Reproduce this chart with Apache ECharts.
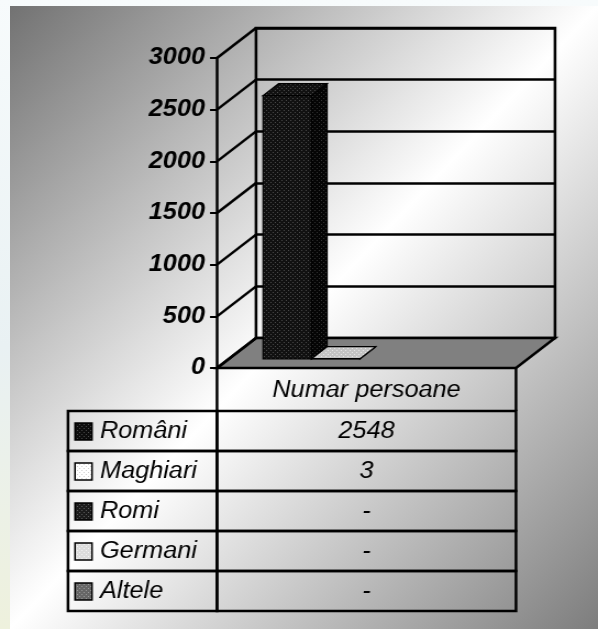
<!DOCTYPE html>
<html><head><meta charset="utf-8">
<script src="https://cdn.jsdelivr.net/npm/echarts@6/dist/echarts.min.js"></script>
<style>
html,body{margin:0;padding:0;background:#fff;overflow:hidden}
#wrap{position:relative;width:598px;height:629px;overflow:hidden;background:linear-gradient(to bottom,#f7fbfc 0%,#e9f1f3 55%,#eef1dd 100%)}
#bg{position:absolute;left:10px;top:6px;right:0;bottom:0;background:linear-gradient(to bottom right,#727272 0%,#ffffff 50%,#7d7d7d 100%)}
#chart{position:absolute;left:0;top:0;width:544px;height:629px;transform:scaleX(1.099265);transform-origin:0 0}
</style></head><body>
<div id="wrap"><div id="bg"></div><div id="chart"></div></div>
<script>
// ---- data ----
const categories = ['Numar persoane'];
const groups = ['Români', 'Maghiari', 'Romi', 'Germani', 'Altele'];
const values = [2548, 3, null, null, null];
const tableText = ['2548', '3', '-', '-', '-'];
const yTicks = [0, 500, 1000, 1500, 2000, 2500, 3000];

// ---- layout / style ----
const SX = 598 / 544;
const X = v => v / SX;
const DX = X(39), DY = -30;
const FRONT_D = 0.3, BACK_D = 0.7;
const GAP_FRAC = 34.3 / 299, BAR_FRAC = 48.5 / 299;
const LABEL_W = X(149), KEY_X = X(7), TXT_X = X(32), HEADER_H = 43;
const LW = 2.5;
const FONT = '"Liberation Sans", Arial, sans-serif';

function pattern(bg, dot) {
  const c = document.createElement('canvas'); c.width = 4; c.height = 4;
  const g = c.getContext('2d');
  g.fillStyle = bg; g.fillRect(0, 0, 4, 4);
  g.fillStyle = dot; g.fillRect(0, 0, 1, 1); g.fillRect(2, 2, 1, 1);
  return { image: c, repeat: 'repeat' };
}
const keyFill = [
  pattern('#0d0d0d', '#4a4a4a'),
  pattern('#ffffff', '#d0d0d0'),
  pattern('#1c1c1c', '#5c5c5c'),
  pattern('#dcdcdc', '#f4f4f4'),
  pattern('#666666', '#999999')
];
const faceFill = [
  { front: pattern('#111111', '#4a4a4a'), top: pattern('#111111', '#4a4a4a'), side: pattern('#050505', '#333333') },
  { front: pattern('#ffffff', '#d0d0d0'), top: pattern('#c4c4c4', '#e8e8e8'), side: pattern('#aaaaaa', '#cccccc') },
  { front: pattern('#1c1c1c', '#5c5c5c'), top: pattern('#1c1c1c', '#5c5c5c'), side: pattern('#0c0c0c', '#3c3c3c') },
  { front: pattern('#dcdcdc', '#f4f4f4'), top: pattern('#cccccc', '#eeeeee'), side: pattern('#bbbbbb', '#dddddd') },
  { front: pattern('#666666', '#999999'), top: pattern('#5a5a5a', '#8a8a8a'), side: pattern('#4a4a4a', '#7a7a7a') }
];

const chart = echarts.init(document.getElementById('chart'), null, { renderer: 'canvas' });

const option = {
  backgroundColor: 'transparent',
  animation: false,
  grid: [
    { left: X(256), top: 28, width: X(299), height: 310, show: true, borderColor: '#000', borderWidth: LW, backgroundColor: 'transparent' },
    { left: X(217), top: 58, width: X(299), height: 310 },
    { left: X(217), top: 411, width: X(299), height: 200 }
  ],
  xAxis: [
    { gridIndex: 0, type: 'category', data: categories, show: false },
    { gridIndex: 1, type: 'category', data: categories,
      axisLine: { show: false }, axisTick: { show: false },
      axisLabel: { margin: 11, color: '#000', fontSize: 23, fontStyle: 'italic', fontFamily: FONT } },
    { gridIndex: 2, type: 'category', data: categories, show: false }
  ],
  yAxis: [
    { gridIndex: 0, type: 'value', min: 0, max: 3000, interval: 500,
      axisLine: { show: false }, axisTick: { show: false }, axisLabel: { show: false },
      splitLine: { show: true, lineStyle: { color: '#000', width: LW } } },
    { gridIndex: 1, type: 'value', min: 0, max: 3000, interval: 500,
      axisLine: { show: true, lineStyle: { color: '#000', width: LW } },
      axisTick: { show: true, length: X(7), lineStyle: { color: '#000', width: 2 } },
      splitLine: { show: false },
      axisLabel: { margin: X(12), color: '#000', fontSize: 23, fontWeight: 'bold', fontStyle: 'italic', fontFamily: FONT,
        formatter: v => String(v) } },
    { gridIndex: 2, type: 'category', data: groups, inverse: true, show: false }
  ],
  series: [
    { // side wall diagonals + floor
      type: 'custom', xAxisIndex: 1, yAxisIndex: 1, z: 2, silent: true,
      data: yTicks.map(t => [0, t]),
      renderItem(params, api) {
        const t = api.value(1);
        const bw = api.size([1, 0])[0];
        const p = api.coord([api.value(0), t]);
        const ax = p[0] - bw / 2, r = ax + bw;
        const ch = [];
        if (t === 0) {
          ch.push({ type: 'polygon', shape: { points: [[ax, p[1]], [r, p[1]], [r + DX, p[1] + DY], [ax + DX, p[1] + DY]] },
            style: { fill: '#808080', stroke: '#000', lineWidth: LW, lineJoin: 'miter' } });
        }
        ch.push({ type: 'line', shape: { x1: ax, y1: p[1], x2: ax + DX, y2: p[1] + DY }, style: { stroke: '#000', lineWidth: LW } });
        return { type: 'group', children: ch };
      }
    },
    { // 3D bars
      type: 'custom', xAxisIndex: 1, yAxisIndex: 1, z: 4, silent: true,
      data: values.map((v, i) => v == null ? null : [0, v, i]).filter(d => d),
      renderItem(params, api) {
        const i = api.value(2);
        const bw = api.size([1, 0])[0];
        const c0 = api.coord([api.value(0), 0]);
        const c1 = api.coord([api.value(0), api.value(1)]);
        const bandStart = c0[0] - bw / 2;
        const barW = bw * BAR_FRAC;
        const x0 = bandStart + bw * GAP_FRAC + i * barW;
        const fx = DX * FRONT_D, fy = DY * FRONT_D, bx = DX * BACK_D, by = DY * BACK_D;
        const yb = c0[1], yt = c1[1];
        const L = x0 + fx, R = x0 + barW + fx;
        const f = faceFill[i];
        const st = { stroke: '#000', lineWidth: 1.2 };
        return { type: 'group', children: [
          { type: 'polygon', shape: { points: [[R, yt + fy], [x0 + barW + bx, yt + by], [x0 + barW + bx, yb + by], [R, yb + fy]] }, style: Object.assign({ fill: f.side }, st) },
          { type: 'polygon', shape: { points: [[L, yt + fy], [R, yt + fy], [x0 + barW + bx, yt + by], [x0 + bx, yt + by]] }, style: Object.assign({ fill: f.top }, st) },
          { type: 'rect', shape: { x: L, y: yt + fy, width: barW, height: yb - yt }, style: Object.assign({ fill: f.front }, st) }
        ] };
      }
    },
    { // data table
      type: 'custom', xAxisIndex: 2, yAxisIndex: 2, z: 3, silent: true,
      data: groups.map((g, i) => [0, i]),
      renderItem(params, api) {
        const i = api.value(1);
        const bw = api.size([1, 0])[0];
        const rh = api.size([0, 1])[1];
        const c = api.coord([0, i]);
        const x1 = c[0] - bw / 2, x2 = c[0] + bw / 2, y1 = c[1] - rh / 2;
        const line = { stroke: '#000', lineWidth: LW, fill: null };
        const ch = [
          { type: 'rect', shape: { x: x1 - LABEL_W, y: y1, width: LABEL_W, height: rh }, style: line },
          { type: 'rect', shape: { x: x1, y: y1, width: bw, height: rh }, style: line },
          { type: 'rect', shape: { x: x1 - LABEL_W + KEY_X, y: c[1] - 8, width: X(17), height: 17 },
            style: { fill: keyFill[i], stroke: '#000', lineWidth: 1.5 } },
          { type: 'text', style: { text: groups[i], x: x1 - LABEL_W + TXT_X, y: c[1] + 1, align: 'left', verticalAlign: 'middle',
            font: 'italic 23px ' + FONT, fill: '#000' } },
          { type: 'text', style: { text: tableText[i], x: c[0], y: c[1] + 1, align: 'center', verticalAlign: 'middle',
            font: 'italic 23px ' + FONT, fill: '#000' } }
        ];
        if (i === 0) {
          ch.push({ type: 'line', shape: { x1: x1, y1: y1 - HEADER_H, x2: x1, y2: y1 }, style: { stroke: '#000', lineWidth: LW } });
          ch.push({ type: 'line', shape: { x1: x2, y1: y1 - HEADER_H, x2: x2, y2: y1 }, style: { stroke: '#000', lineWidth: LW } });
        }
        return { type: 'group', children: ch };
      }
    }
  ]
};
chart.setOption(option);
</script>
</body></html>
